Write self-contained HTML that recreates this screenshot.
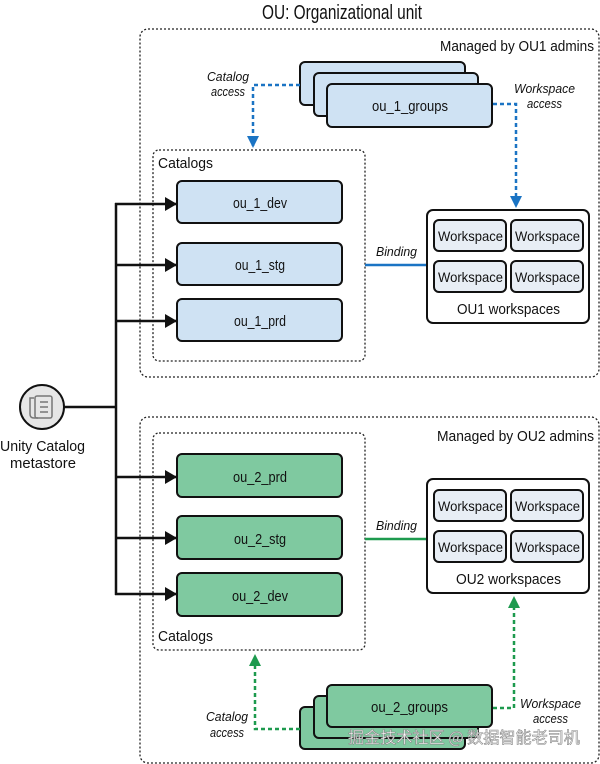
<!DOCTYPE html>
<html><head><meta charset="utf-8"><style>
html,body{margin:0;padding:0;background:#fff}
svg{display:block}
text{font-family:"Liberation Sans",sans-serif;fill:#111}
.t{font-size:15px}
.i{font-size:13px;font-style:italic}
.w{font-size:13px}
</style></head><body>
<svg width="600" height="764" viewBox="0 0 600 764" xmlns="http://www.w3.org/2000/svg">
<defs>
<marker id="ab" markerWidth="12" markerHeight="14" refX="11" refY="7" orient="auto" markerUnits="userSpaceOnUse"><path d="M0,0 L12,7 L0,14z" fill="#111"/></marker>
<marker id="bl" markerWidth="12" markerHeight="12" refX="10" refY="6" orient="auto" markerUnits="userSpaceOnUse"><path d="M0,0 L12,6 L0,12z" fill="#1b74c4"/></marker>
<marker id="gr" markerWidth="12" markerHeight="12" refX="10" refY="6" orient="auto" markerUnits="userSpaceOnUse"><path d="M0,0 L12,6 L0,12z" fill="#1d9a4e"/></marker>
</defs>
<text x="262" y="19" textLength="160" lengthAdjust="spacingAndGlyphs" style="font-size:20px">OU: Organizational unit</text>

<!-- OU1 -->
<rect x="140" y="29" width="459" height="348" rx="8" fill="none" stroke="#222" stroke-width="1.3" stroke-dasharray="2,2"/>
<text x="440" y="51" textLength="154" lengthAdjust="spacingAndGlyphs" class="t">Managed by OU1 admins</text>
<rect x="300" y="62" width="165" height="43" rx="5" fill="#cfe2f3" stroke="#111" stroke-width="2"/>
<rect x="314" y="73" width="164" height="43" rx="5" fill="#cfe2f3" stroke="#111" stroke-width="2"/>
<rect x="327" y="84" width="165" height="43" rx="5" fill="#cfe2f3" stroke="#111" stroke-width="2"/>
<text x="372" y="111" textLength="76" lengthAdjust="spacingAndGlyphs" class="t">ou_1_groups</text>
<text x="207" y="81" textLength="42" lengthAdjust="spacingAndGlyphs" class="i">Catalog</text>
<text x="211" y="96" textLength="34" lengthAdjust="spacingAndGlyphs" class="i">access</text>
<path d="M300,85 H253 V146" fill="none" stroke="#1b74c4" stroke-width="2.5" stroke-dasharray="4,3" marker-end="url(#bl)"/>
<text x="514" y="93" textLength="61" lengthAdjust="spacingAndGlyphs" class="i">Workspace</text>
<text x="527" y="108" textLength="35" lengthAdjust="spacingAndGlyphs" class="i">access</text>
<path d="M493,104 H516 V206" fill="none" stroke="#1b74c4" stroke-width="2.5" stroke-dasharray="4,3" marker-end="url(#bl)"/>
<rect x="153" y="150" width="212" height="211" rx="6" fill="none" stroke="#222" stroke-width="1.3" stroke-dasharray="2,2"/>
<text x="158" y="168" textLength="55" lengthAdjust="spacingAndGlyphs" class="t">Catalogs</text>
<rect x="177" y="181" width="165" height="42" rx="5" fill="#cfe2f3" stroke="#111" stroke-width="2"/>
<text x="233" y="208" textLength="54" lengthAdjust="spacingAndGlyphs" class="t">ou_1_dev</text>
<rect x="177" y="243" width="165" height="42" rx="5" fill="#cfe2f3" stroke="#111" stroke-width="2"/>
<text x="235" y="270" textLength="50" lengthAdjust="spacingAndGlyphs" class="t">ou_1_stg</text>
<rect x="177" y="299" width="165" height="42" rx="5" fill="#cfe2f3" stroke="#111" stroke-width="2"/>
<text x="234" y="326" textLength="52" lengthAdjust="spacingAndGlyphs" class="t">ou_1_prd</text>
<line x1="365" y1="265" x2="427" y2="265" stroke="#1b74c4" stroke-width="2.5"/>
<text x="376" y="256" textLength="41" lengthAdjust="spacingAndGlyphs" class="i">Binding</text>
<rect x="427" y="210" width="162" height="113" rx="6" fill="#fff" stroke="#111" stroke-width="2"/>
<g fill="#e8eef5" stroke="#111" stroke-width="2">
<rect x="434" y="220" width="72" height="31" rx="5"/><rect x="511" y="220" width="72" height="31" rx="5"/>
<rect x="434" y="261" width="72" height="31" rx="5"/><rect x="511" y="261" width="72" height="31" rx="5"/>
</g>
<g class="w">
<text x="438" y="241" textLength="65" lengthAdjust="spacingAndGlyphs" style="font-size:14px">Workspace</text><text x="515" y="241" textLength="65" lengthAdjust="spacingAndGlyphs" style="font-size:14px">Workspace</text>
<text x="438" y="282" textLength="65" lengthAdjust="spacingAndGlyphs" style="font-size:14px">Workspace</text><text x="515" y="282" textLength="65" lengthAdjust="spacingAndGlyphs" style="font-size:14px">Workspace</text>
</g>
<text x="457" y="314" textLength="103" lengthAdjust="spacingAndGlyphs" class="t">OU1 workspaces</text>

<!-- trunk -->
<line x1="116" y1="203" x2="116" y2="595" stroke="#111" stroke-width="2.5"/>
<g stroke="#111" stroke-width="2.5" marker-end="url(#ab)">
<line x1="115" y1="204" x2="176" y2="204"/><line x1="115" y1="265" x2="176" y2="265"/><line x1="115" y1="321" x2="176" y2="321"/>
<line x1="115" y1="477" x2="176" y2="477"/><line x1="115" y1="538" x2="176" y2="538"/><line x1="115" y1="594" x2="176" y2="594"/>
</g>
<line x1="64" y1="407" x2="116" y2="407" stroke="#111" stroke-width="2.5"/>
<circle cx="42" cy="407" r="22" fill="#e6e6e6" stroke="#111" stroke-width="2"/>
<g fill="none" stroke="#777" stroke-width="1.5">
<path d="M34,398 h-4 v16 q0,4 4,4 h4"/><rect x="35" y="396" width="17" height="22" rx="2"/>
<line x1="40" y1="402" x2="48" y2="402"/><line x1="40" y1="407" x2="48" y2="407"/><line x1="40" y1="412" x2="48" y2="412"/>
</g>
<text x="0" y="451" textLength="85" lengthAdjust="spacingAndGlyphs" class="t">Unity Catalog</text>
<text x="10" y="468" textLength="66" lengthAdjust="spacingAndGlyphs" class="t">metastore</text>

<!-- OU2 -->
<rect x="140" y="417" width="459" height="346" rx="8" fill="none" stroke="#222" stroke-width="1.3" stroke-dasharray="2,2"/>
<text x="437" y="441" textLength="157" lengthAdjust="spacingAndGlyphs" class="t">Managed by OU2 admins</text>
<rect x="153" y="433" width="212" height="217" rx="6" fill="none" stroke="#222" stroke-width="1.3" stroke-dasharray="2,2"/>
<text x="158" y="641" textLength="55" lengthAdjust="spacingAndGlyphs" class="t">Catalogs</text>
<rect x="177" y="454" width="165" height="43" rx="5" fill="#7fc9a0" stroke="#111" stroke-width="2"/>
<text x="233" y="482" textLength="54" lengthAdjust="spacingAndGlyphs" class="t">ou_2_prd</text>
<rect x="177" y="516" width="165" height="43" rx="5" fill="#7fc9a0" stroke="#111" stroke-width="2"/>
<text x="234" y="544" textLength="52" lengthAdjust="spacingAndGlyphs" class="t">ou_2_stg</text>
<rect x="177" y="573" width="165" height="43" rx="5" fill="#7fc9a0" stroke="#111" stroke-width="2"/>
<text x="232" y="601" textLength="56" lengthAdjust="spacingAndGlyphs" class="t">ou_2_dev</text>
<line x1="365" y1="539" x2="427" y2="539" stroke="#1d9a4e" stroke-width="2.5"/>
<text x="376" y="530" textLength="41" lengthAdjust="spacingAndGlyphs" class="i">Binding</text>
<rect x="427" y="479" width="162" height="114" rx="6" fill="#fff" stroke="#111" stroke-width="2"/>
<g fill="#e8eef5" stroke="#111" stroke-width="2">
<rect x="434" y="490" width="72" height="31" rx="5"/><rect x="511" y="490" width="72" height="31" rx="5"/>
<rect x="434" y="531" width="72" height="31" rx="5"/><rect x="511" y="531" width="72" height="31" rx="5"/>
</g>
<text x="438" y="511" textLength="65" lengthAdjust="spacingAndGlyphs" style="font-size:14px">Workspace</text><text x="515" y="511" textLength="65" lengthAdjust="spacingAndGlyphs" style="font-size:14px">Workspace</text>
<text x="438" y="552" textLength="65" lengthAdjust="spacingAndGlyphs" style="font-size:14px">Workspace</text><text x="515" y="552" textLength="65" lengthAdjust="spacingAndGlyphs" style="font-size:14px">Workspace</text>
<text x="456" y="584" textLength="105" lengthAdjust="spacingAndGlyphs" class="t">OU2 workspaces</text>
<rect x="300" y="707" width="165" height="42" rx="5" fill="#7fc9a0" stroke="#111" stroke-width="2"/>
<rect x="314" y="696" width="164" height="42" rx="5" fill="#7fc9a0" stroke="#111" stroke-width="2"/>
<rect x="327" y="685" width="165" height="42" rx="5" fill="#7fc9a0" stroke="#111" stroke-width="2"/>
<text x="371" y="712" textLength="77" lengthAdjust="spacingAndGlyphs" class="t">ou_2_groups</text>
<path d="M300,729 H255 V656" fill="none" stroke="#1d9a4e" stroke-width="2.5" stroke-dasharray="4,3" marker-end="url(#gr)"/>
<text x="206" y="721" textLength="42" lengthAdjust="spacingAndGlyphs" class="i">Catalog</text>
<text x="210" y="737" textLength="34" lengthAdjust="spacingAndGlyphs" class="i">access</text>
<path d="M493,708 H514 V598" fill="none" stroke="#1d9a4e" stroke-width="2.5" stroke-dasharray="4,3" marker-end="url(#gr)"/>
<text x="520" y="708" textLength="61" lengthAdjust="spacingAndGlyphs" class="i">Workspace</text>
<text x="533" y="723" textLength="35" lengthAdjust="spacingAndGlyphs" class="i">access</text>
<text x="348" y="743" textLength="232" lengthAdjust="spacingAndGlyphs" style="font-family:'Noto Sans CJK SC',sans-serif;font-size:16px;fill:#fff;stroke:#888;stroke-width:0.6">掘金技术社区 @ 数据智能老司机</text>
</svg>
</body></html>
